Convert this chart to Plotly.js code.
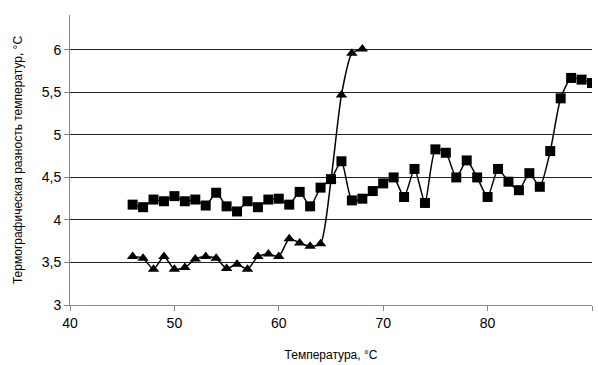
<!DOCTYPE html>
<html><head><meta charset="utf-8">
<script src="https://cdn.plot.ly/plotly-3.0.1.min.js"></script>
<style>html,body{margin:0;padding:0;background:#fff}#chart{width:598px;height:365px}</style>
</head><body><div id="chart"></div>
<script>
const tempSquares = [46,47,48,49,50,51,52,53,54,55,56,57,58,59,60,61,62,63,64,65,66,67,68,69,70,71,72,73,74,75,76,77,78,79,80,81,82,83,84,85,86,87,88,89,90];
const diffSquares = [4.18,4.15,4.24,4.22,4.28,4.22,4.24,4.17,4.32,4.16,4.10,4.22,4.15,4.24,4.25,4.18,4.33,4.16,4.38,4.48,4.69,4.23,4.25,4.34,4.43,4.50,4.27,4.60,4.20,4.83,4.79,4.50,4.70,4.50,4.27,4.60,4.45,4.35,4.55,4.39,4.81,5.43,5.67,5.65,5.61];
const tempTriangles = [46,47,48,49,50,51,52,53,54,55,56,57,58,59,60,61,62,63,64,65,66,67,68];
const diffTriangles = [3.57,3.55,3.42,3.57,3.42,3.44,3.54,3.57,3.55,3.43,3.48,3.42,3.57,3.60,3.57,3.78,3.73,3.69,3.72,4.47,5.47,5.96,6.01];
const xTicks = [40,50,60,70,80,90];
const yTicks = [3,3.5,4,4.5,5,5.5,6];

const data = [
  {x: tempTriangles, y: diffTriangles, mode: 'lines+markers', type: 'scatter',
   line: {color: '#000', width: 1.5, shape: 'spline', smoothing: 0.6},
   marker: {symbol: 'triangle-up', size: 10, color: '#000'}},
  {x: tempSquares, y: diffSquares, mode: 'lines+markers', type: 'scatter',
   line: {color: '#000', width: 1.5, shape: 'spline', smoothing: 0.6},
   marker: {symbol: 'square', size: 10, color: '#000'}}
];
const layout = {
  width: 598, height: 365, showlegend: false,
  separators: ', ',
  paper_bgcolor: '#fff', plot_bgcolor: '#fff',
  margin: {l: 70, r: 6, t: 15, b: 60},
  font: {family: 'Liberation Sans, Arial, sans-serif', color: '#000'},
  xaxis: {range: [40, 90], tickvals: xTicks, showgrid: false, zeroline: false,
    showline: true, linecolor: '#888', linewidth: 1, ticks: 'outside', tickcolor: '#888', ticklen: 5,
    tickfont: {size: 14}, title: {text: 'Температура, °C', font: {size: 12}, standoff: 20}},
  yaxis: {range: [3, 6.41], tickvals: yTicks, showgrid: true, gridcolor: '#222', gridwidth: 1, zeroline: false,
    showline: true, linecolor: '#888', linewidth: 1, ticks: 'outside', tickcolor: '#888', ticklen: 5,
    tickfont: {size: 14}, title: {text: 'Термографическая разность температур, °C', font: {size: 12}, standoff: 16}}
};
Plotly.newPlot('chart', data, layout, {displayModeBar: false, staticPlot: true});
</script></body></html>
